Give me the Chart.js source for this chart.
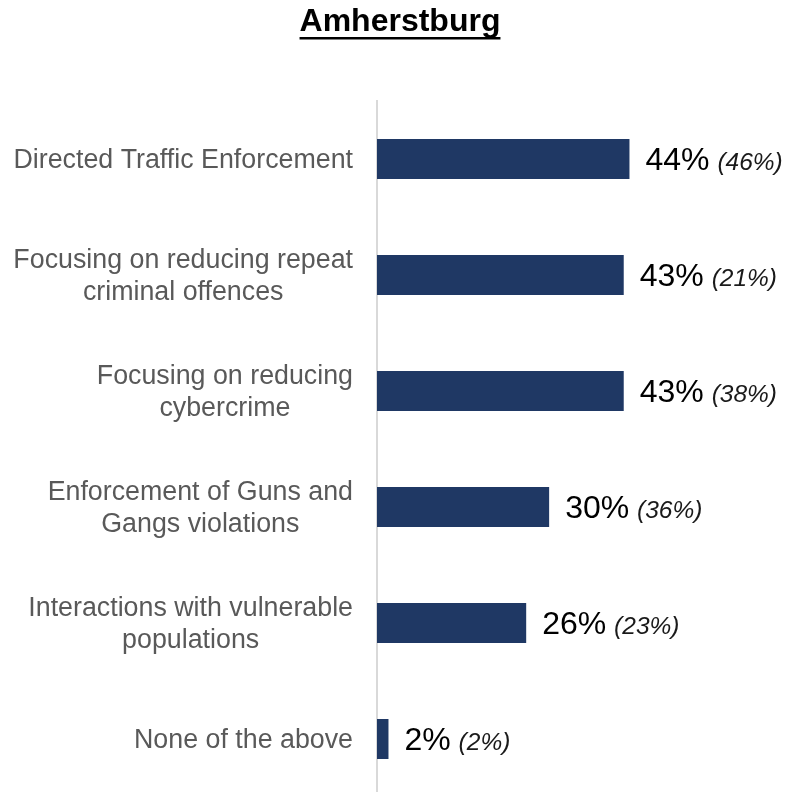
<!DOCTYPE html>
<html>
<head>
<meta charset="utf-8">
<script src="https://cdn.jsdelivr.net/npm/chart.js@4"></script>
<style>
  html, body { margin: 0; padding: 0; background: #fff; overflow: hidden; }
  #wrap { position: relative; width: 793px; height: 800px; }
</style>
</head>
<body>
<div id="wrap"><canvas id="priorities"></canvas></div>
<script>
const categories = [
    ["Directed Traffic Enforcement"],
    ["Focusing on reducing repeat", "criminal offences"],
    ["Focusing on reducing", "cybercrime"],
    ["Enforcement of Guns and", "Gangs violations"],
    ["Interactions with vulnerable", "populations"],
    ["None of the above"]
];
const current = [44, 43, 43, 30, 26, 2];   // this year
const previous = [46, 21, 38, 36, 23, 2];  // shown in brackets
const title = "Amherstburg";

const FONT = "Arial, 'Liberation Sans', sans-serif";

// title + category labels + value labels
const labelsPlugin = {
    id: "labels",
    afterDatasetsDraw(chart) {
        const ctx = chart.ctx;
        const yScale = chart.scales.y;
        ctx.save();

        // title, bold and underlined
        ctx.font = "bold 32px " + FONT;
        ctx.fillStyle = "#000";
        ctx.textAlign = "center";
        ctx.textBaseline = "middle";
        ctx.fillText(title, 400, 22);
        const tw = ctx.measureText(title).width;
        ctx.fillRect(400 - tw / 2, 37, tw, 2.5);

        // category labels, block right-aligned, lines centered
        ctx.font = "26.8px " + FONT;
        ctx.fillStyle = "#595959";
        categories.forEach((lines, i) => {
            const yc = yScale.getPixelForValue(i) + 2;
            const maxW = Math.max(...lines.map(l => ctx.measureText(l).width));
            const cx = 353 - maxW / 2;
            const lh = 32;
            lines.forEach((l, j) => {
                ctx.fillText(l, cx, yc + (j - (lines.length - 1) / 2) * lh);
            });
        });

        // value labels: "44% (46%)"
        const meta = chart.getDatasetMeta(0);
        meta.data.forEach((bar, i) => {
            let x = bar.x + 16;
            ctx.textAlign = "left";
            ctx.font = "32px " + FONT;
            ctx.fillStyle = "#000";
            const main = current[i] + "% ";
            ctx.fillText(main, x, bar.y + 2);
            x += ctx.measureText(main).width - 1;
            ctx.font = "italic 24.5px " + FONT;
            ctx.fillStyle = "#1a1a1a";
            ctx.fillText("(" + previous[i] + "%)", x, bar.y + 4);
        });
        ctx.restore();
    }
};

new Chart(document.getElementById("priorities"), {
    type: "bar",
    data: {
        labels: categories,
        datasets: [{
            data: current,
            backgroundColor: "#1f3864",
            borderWidth: 0,
            barPercentage: 0.345,
            categoryPercentage: 1
        }]
    },
    plugins: [labelsPlugin],
    options: {
        indexAxis: "y",
        responsive: true,
        maintainAspectRatio: false,
        animation: false,
        layout: { padding: { left: 377, right: 0, top: 101, bottom: 3 } },
        plugins: {
            legend: { display: false },
            tooltip: { enabled: false }
        },
        scales: {
            x: {
                display: false,
                min: 0,
                max: 72.5
            },
            y: {
                afterFit(scale) { scale.width = 0; },
                ticks: { display: false },
                grid: { display: false },
                border: { display: true, color: "#d9d9d9", width: 2 }
            }
        }
    }
});
</script>
</body>
</html>
